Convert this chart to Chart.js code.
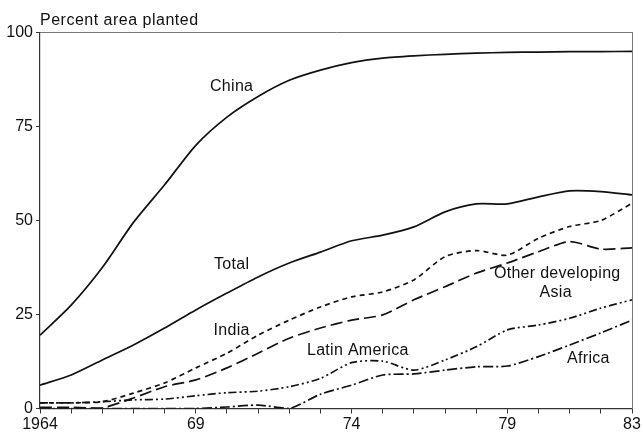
<!DOCTYPE html>
<html>
<head>
<meta charset="utf-8">
<script src="https://cdn.jsdelivr.net/npm/chart.js@4.4.1/dist/chart.umd.min.js"></script>
<style>
  html, body { margin: 0; padding: 0; background: #fff; }
  #wrap { width: 642px; height: 434px; }
</style>
</head>
<body>
<div id="wrap"><canvas id="chart" width="642" height="434"></canvas></div>
<script>
// Data
const years = [1964, 1965, 1966, 1967, 1968, 1969, 1970, 1971, 1972, 1973, 1974, 1975, 1976, 1977, 1978, 1979, 1980, 1981, 1982, 1983]
const china = [19.5, 27.5, 37.5, 49.5, 59.5, 70, 77.5, 83, 87.3, 90, 92, 93.2, 93.8, 94.2, 94.5, 94.7, 94.8, 94.9, 94.9, 95]
const total = [6.2, 8.9, 12.9, 16.9, 21.4, 26.2, 30.7, 35, 38.7, 41.6, 44.6, 46.1, 48.3, 52.3, 54.4, 54.4, 56.3, 57.9, 57.7, 56.8]
const india = [1.5, 1.5, 1.8, 4.1, 6.8, 10.8, 14.7, 19.5, 23.5, 27, 29.7, 31, 34.2, 40.4, 42, 40.8, 45.3, 48.4, 50, 54.6]
const otherAsia = [0.3, 0.3, 0.2, 2.8, 5.8, 7.6, 10.8, 14.7, 18.7, 21.4, 23.5, 24.9, 28.9, 32.4, 36, 38.7, 41.7, 44.4, 42.4, 42.7]
const latinAmerica = [1.5, 1.5, 1.8, 2.3, 2.5, 3.4, 4.2, 4.6, 5.8, 8, 12.2, 12.6, 10.2, 12.9, 16.4, 20.9, 22.2, 24, 26.7, 28.9]
const africa = [0, 0, 0, 0, 0, 0, 0.4, 0.9, 0, 3.8, 6.2, 8.9, 9.2, 10.2, 11.1, 11.3, 13.8, 16.9, 20.1, 23.5]

const xTickLabels = { 1964: "1964", 1969: "69", 1974: "74", 1979: "79", 1983: "83" }
const yTicks = [0, 25, 50, 75, 100]

// Series labels placed in data units (year, percent)
const seriesLabels = [
  { text: "China", x: 1970.15, y: 85.5 },
  { text: "Total", x: 1970.15, y: 38.2 },
  { text: "India", x: 1970.15, y: 20.6 },
  { text: "Latin America", x: 1974.2, y: 15.3 },
  { text: "Other developing", x: 1980.6, y: 36.0 },
  { text: "Asia", x: 1980.55, y: 30.7 },
  { text: "Africa", x: 1981.6, y: 13.4 },
]

const FONT = "'Liberation Sans', Arial, sans-serif"
const INK = "#111"

function toPoints(values) {
  return years.map((yr, i) => ({ x: yr, y: values[i] }))
}

function lineSet(label, values, dash) {
  return {
    label: label,
    data: toPoints(values),
    borderColor: INK,
    borderWidth: 1.7,
    borderDash: dash,
    pointRadius: 0,
    tension: 0.25,
    fill: false,
  }
}

// Draw the series names and the axis title
const labelPlugin = {
  id: "seriesLabels",
  afterDatasetsDraw(chart) {
    const ctx = chart.ctx
    const xs = chart.scales.x
    const ys = chart.scales.y
    ctx.save()
    ctx.fillStyle = INK
    ctx.font = "16px " + FONT
    ctx.letterSpacing = "0.3px"
    ctx.textAlign = "center"
    ctx.textBaseline = "middle"
    seriesLabels.forEach((l) => {
      ctx.fillText(l.text, xs.getPixelForValue(l.x), ys.getPixelForValue(l.y))
    })
    ctx.letterSpacing = "0.5px"
    ctx.textAlign = "left"
    ctx.fillText("Percent area planted", chart.chartArea.left, chart.chartArea.top - 12)
    ctx.restore()
  },
}

const ctx = document.getElementById("chart").getContext("2d")

new Chart(ctx, {
  type: "line",
  data: {
    datasets: [
      lineSet("China", china, []),
      lineSet("Total", total, []),
      lineSet("India", india, [5, 4]),
      lineSet("Other developing Asia", otherAsia, [12, 5]),
      lineSet("Latin America", latinAmerica, [8, 3, 2, 3, 2, 3]),
      lineSet("Africa", africa, [10, 3, 2, 3]),
    ],
  },
  options: {
    responsive: false,
    animation: false,
    layout: {
      padding: { top: 32.5, right: 10, left: 0, bottom: 0 },
    },
    plugins: {
      legend: { display: false },
      tooltip: { enabled: false },
    },
    scales: {
      x: {
        type: "linear",
        min: 1964,
        max: 1983,
        afterFit: (scale) => { scale.height = 25.5 },
        ticks: {
          stepSize: 1,
          autoSkip: false,
          maxRotation: 0,
          padding: 1,
          color: INK,
          font: { family: FONT, size: 16 },
          callback: (v) => xTickLabels[v] || "",
        },
        grid: {
          drawOnChartArea: false,
          drawTicks: true,
          tickLength: 5,
          color: "#333",
        },
        border: { color: "#333", width: 1.2, dash: [6, 2, 1, 2] },
      },
      x2: {
        type: "linear",
        position: "top",
        min: 1964,
        max: 1983,
        afterFit: (scale) => { scale.height = 0 },
        ticks: { display: false },
        grid: { display: false, drawTicks: false },
        border: { color: "#777", width: 1, dash: [1, 3] },
      },
      y: {
        min: 0,
        max: 100,
        afterFit: (scale) => { scale.width = 40 },
        afterBuildTicks: (scale) => { scale.ticks = yTicks.map((v) => ({ value: v })) },
        ticks: {
          padding: 3,
          color: INK,
          font: { family: FONT, size: 16 },
        },
        grid: {
          drawOnChartArea: false,
          drawTicks: true,
          tickLength: 4,
          color: "#333",
        },
        border: { color: "#333", width: 1.2, dash: [6, 2, 1, 2] },
      },
      y2: {
        position: "right",
        min: 0,
        max: 100,
        afterFit: (scale) => { scale.width = 0 },
        ticks: { display: false },
        grid: { display: false, drawTicks: false },
        border: { color: "#777", width: 1, dash: [1, 3] },
      },
    },
  },
  plugins: [labelPlugin],
})
</script>
</body>
</html>
